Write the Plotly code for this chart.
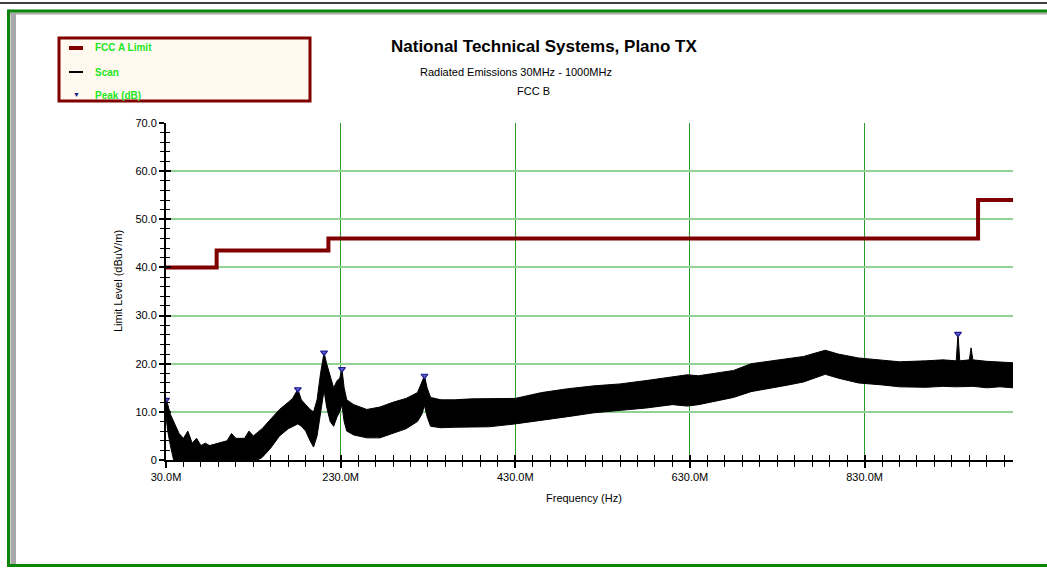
import plotly.graph_objects as go

# ---------------- data ----------------
freq_mhz = [30, 32, 35, 40, 45, 50, 55, 60, 65, 70, 75, 80, 90, 100, 105, 110, 120, 125,
            130, 140, 150, 160, 170, 175, 181, 185, 190, 195, 199, 203, 207, 211, 214, 218,
            222, 226, 229, 231.5, 234, 237, 245, 260, 275, 290, 305, 318, 323, 326, 329,
            333, 345, 360, 380, 400, 430, 460, 490, 520, 550, 580, 610, 627, 640,
            660, 680, 700, 720, 740, 760, 785, 800, 823, 850, 870, 900, 920, 935,
            937, 939, 950, 952, 954, 970, 985, 1000]
scan_upper = [12.5, 11.5, 9.5, 7.5, 5.5, 4.5, 6.0, 3.5, 4.5, 3.0, 3.5, 3.0, 3.5, 4.0, 5.5, 4.5, 4.5, 6.0,
              5.0, 6.5, 8.5, 10.5, 12.0, 12.8, 14.7, 12.5, 11.5, 10.5, 10.0, 12.5, 18.0, 22.3, 20.0, 17.5,
              15.0, 16.5, 17.0, 18.9, 15.0, 12.5, 11.5, 10.5, 11.0, 12.0, 12.8, 14.0, 16.0, 17.5, 15.0,
              13.0, 12.5, 12.5, 12.7, 12.8, 12.8, 14.0, 14.8, 15.4, 15.8, 16.5, 17.2, 17.7, 17.5,
              18.0, 18.6, 20.0, 20.5, 21.0, 21.5, 22.8, 22.0, 21.2, 20.7, 20.4, 20.6, 20.8, 20.6,
              26.2, 20.6, 20.8, 23.3, 20.8, 20.5, 20.4, 20.2]
scan_lower = [9.0, 6.0, 3.0, -1.0, -1.0, -1.0, -1.0, -1.0, -1.0, -1.0, -1.0, -1.0, -1.0, -1.0, -1.0, -1.0, -1.0, -1.0,
              -0.5, 0.5, 2.5, 5.0, 6.5, 7.0, 7.5, 7.0, 6.0, 4.0, 2.7, 5.0, 10.0, 14.5, 11.0, 8.0,
              7.0, 9.0, 10.0, 11.5, 8.0, 6.0, 5.2, 4.6, 4.6, 5.5, 6.5, 8.0, 9.5, 11.3, 9.0,
              7.0, 6.7, 6.8, 6.8, 6.9, 7.5, 8.2, 9.0, 9.8, 10.3, 10.8, 11.5, 11.2, 11.5,
              12.2, 13.0, 14.2, 14.8, 15.5, 16.2, 17.8, 17.0, 16.0, 15.6, 15.2, 15.1, 15.3, 15.2,
              15.2, 15.2, 15.3, 15.3, 15.3, 15.0, 15.2, 15.0]

limit_freq = [30, 88, 216, 960, 1000]
limit_level = [40.0, 43.5, 46.0, 54.0, 54.0]

peak_freq = [30, 181, 211, 231.5, 326, 937]
peak_level = [12.5, 14.7, 22.3, 18.9, 17.5, 26.2]

x_tick_vals = [30, 230, 430, 630, 830]
x_tick_text = ["30.0M", "230.0M", "430.0M", "630.0M", "830.0M"]
y_tick_vals = [0, 10, 20, 30, 40, 50, 60, 70]
y_tick_text = ["0", "10.0", "20.0", "30.0", "40.0", "50.0", "60.0", "70.0"]

legend_names = ["FCC A Limit", "Scan", "Peak (dB)"]

# ---------------- geometry / style ----------------
W, H = 1047, 569
L, R, T, B = 166, 1013, 123, 460  # plot area in pixels
SANS = "Liberation Sans, Arial, sans-serif"
DARKRED = "#800000"
NAVY = "#1c1c8c"


def xp(px):
    return (px - L) / (R - L)


def yp(py):
    return (B - py) / (B - T)


fig = go.Figure()

# scan band (lower edge then upper edge filled to it)
fig.add_trace(go.Scatter(x=freq_mhz, y=scan_lower, mode="lines",
                         line=dict(color="black", width=1), showlegend=False,
                         hoverinfo="skip"))
fig.add_trace(go.Scatter(x=freq_mhz, y=scan_upper, mode="lines", fill="tonexty",
                         fillcolor="black", line=dict(color="black", width=1),
                         name=legend_names[1], showlegend=False))
# limit line
fig.add_trace(go.Scatter(x=limit_freq, y=limit_level, mode="lines", line_shape="hv",
                         line=dict(color=DARKRED, width=4), name=legend_names[0],
                         showlegend=False))
# peaks
fig.add_trace(go.Scatter(x=peak_freq, y=peak_level, mode="markers",
                         marker=dict(symbol="triangle-down", size=6, color="#5a5ad0",
                                     line=dict(color=NAVY, width=1.2)),
                         name=legend_names[2], showlegend=False))
# invisible trace on overlay axes (for inside ticks)
fig.add_trace(go.Scatter(x=peak_freq, y=peak_level, xaxis="x2", yaxis="y2", mode="markers",
                         marker=dict(opacity=0), showlegend=False, hoverinfo="skip"))

axis_font = dict(family=SANS, size=11, color="black")

fig.update_layout(
    width=W, height=H,
    margin=dict(l=L, r=W - R, t=T, b=H - B, pad=0),
    paper_bgcolor="white", plot_bgcolor="white",
    showlegend=False,
    xaxis=dict(range=[30, 1000], tickmode="array", tickvals=x_tick_vals, ticktext=x_tick_text,
               ticks="outside", ticklen=6, tickwidth=2, tickcolor="black",
               minor=dict(tick0=30, dtick=20, ticks="outside", ticklen=5, tickwidth=1.3,
                          tickcolor="black", showgrid=False),
               showline=True, linecolor="black", linewidth=2,
               showgrid=True, gridcolor="#2a9a2a", gridwidth=1, zeroline=False,
               tickfont=axis_font, fixedrange=True),
    yaxis=dict(range=[0, 70], tickmode="array", tickvals=y_tick_vals, ticktext=y_tick_text,
               ticks="outside", ticklen=5, tickwidth=2, tickcolor="black",
               minor=dict(tick0=0, dtick=2, ticks="outside", ticklen=4, tickwidth=1.3,
                          tickcolor="black", showgrid=False),
               showline=True, linecolor="black", linewidth=2,
               showgrid=True, gridcolor="#94d294", gridwidth=2, zeroline=False,
               tickfont=axis_font, fixedrange=True),
    xaxis2=dict(range=[30, 1000], overlaying="x", anchor="y2", side="bottom",
                tickmode="array", tickvals=x_tick_vals, showticklabels=False,
                ticks="inside", ticklen=5, tickwidth=2, tickcolor="black",
                minor=dict(tick0=30, dtick=20, ticks="inside", ticklen=5, tickwidth=1.3,
                           tickcolor="black", showgrid=False),
                showgrid=False, zeroline=False, showline=False, fixedrange=True),
    yaxis2=dict(range=[0, 70], overlaying="y", anchor="x2", side="left",
                tickmode="array", tickvals=y_tick_vals, showticklabels=False,
                ticks="inside", ticklen=5, tickwidth=2, tickcolor="black",
                minor=dict(tick0=0, dtick=2, ticks="inside", ticklen=4, tickwidth=1.3,
                           tickcolor="black", showgrid=False),
                showgrid=False, zeroline=False, showline=False, fixedrange=True),
)

shapes = []
# outer window frame
shapes.append(dict(type="line", xref="paper", yref="paper", x0=xp(0), x1=xp(W), y0=yp(3), y1=yp(3),
                   line=dict(color="black", width=1.5), layer="above"))
shapes.append(dict(type="rect", xref="paper", yref="paper", x0=xp(10.5), x1=xp(16), y0=yp(14), y1=yp(564),
                   fillcolor="#a8a8a8", line=dict(width=0), layer="above"))
shapes.append(dict(type="rect", xref="paper", yref="paper", x0=xp(10), x1=xp(W), y0=yp(12.5), y1=yp(14.5),
                   fillcolor="#a8a8a8", line=dict(width=0), layer="above"))
shapes.append(dict(type="line", xref="paper", yref="paper", x0=xp(8.5), x1=xp(W), y0=yp(11), y1=yp(11),
                   line=dict(color="#0a850a", width=3), layer="above"))
shapes.append(dict(type="line", xref="paper", yref="paper", x0=xp(8.5), x1=xp(8.5), y0=yp(9.5), y1=yp(567),
                   line=dict(color="#0a850a", width=3), layer="above"))
shapes.append(dict(type="line", xref="paper", yref="paper", x0=xp(7), x1=xp(W), y0=yp(565.5), y1=yp(565.5),
                   line=dict(color="#0a850a", width=3), layer="above"))
# legend box
shapes.append(dict(type="rect", xref="paper", yref="paper", x0=xp(59), x1=xp(310), y0=yp(38), y1=yp(101),
                   fillcolor="#fff9ef", line=dict(color=DARKRED, width=3), layer="above"))
shapes.append(dict(type="line", xref="paper", yref="paper", x0=xp(69), x1=xp(83), y0=yp(48), y1=yp(48),
                   line=dict(color=DARKRED, width=4), layer="above"))
shapes.append(dict(type="line", xref="paper", yref="paper", x0=xp(69), x1=xp(83), y0=yp(72), y1=yp(72),
                   line=dict(color="black", width=2), layer="above"))
fig.update_layout(shapes=shapes)

ann = []


def text(s, x, y, size, family=SANS, color="black", xanchor="center", bold=False, angle=0):
    ann.append(dict(text=("<b>%s</b>" % s) if bold else s, xref="paper", yref="paper",
                    x=xp(x), y=yp(y), xanchor=xanchor, yanchor="middle", showarrow=False,
                    textangle=angle, font=dict(family=family, size=size, color=color)))


text("National Technical Systems, Plano TX", 544, 46, 17, bold=True)
text("Radiated Emissions 30MHz - 1000MHz", 516, 72, 11)
text("FCC B", 533, 91, 11)
text("Limit Level (dBuV/m)", 118, 281, 11, angle=-90)
text("Frequency (Hz)", 584, 498, 11)
text(legend_names[0], 93, 48, 10, color="#22e622", xanchor="left", bold=True)
text(legend_names[1], 93, 72, 10, color="#22e622", xanchor="left", bold=True)
text(legend_names[2], 93, 95, 10, color="#22e622", xanchor="left", bold=True)
text("▼", 76, 94, 7, color=NAVY)
fig.update_layout(annotations=ann)

fig.write_html("out.html", config=dict(displayModeBar=False),
               post_script="document.body.style.margin='0';document.body.style.overflow='hidden';")
